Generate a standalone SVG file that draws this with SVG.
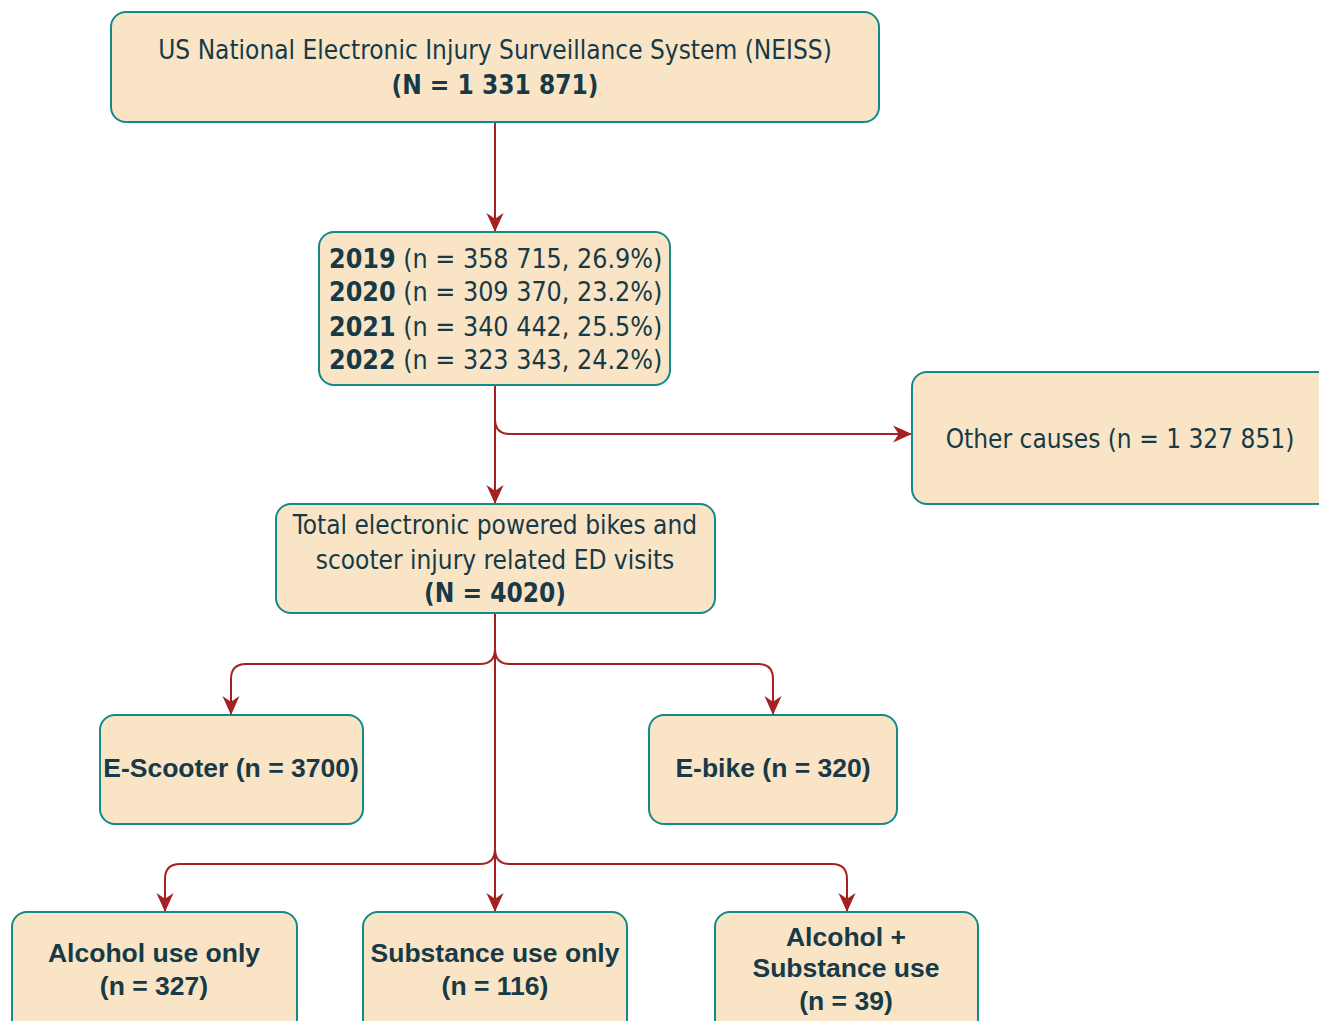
<svg xmlns="http://www.w3.org/2000/svg" width="1319" height="1021" viewBox="0 0 1319 1021">
<style>
.box{fill:#FAE4C6;stroke:#13898A;stroke-width:2}
.t{font-family:"DejaVu Sans Condensed","DejaVu Sans",Verdana,sans-serif;font-stretch:condensed;fill:#163A47;font-size:26px}
.y{font-size:26.6px}
.b{font-weight:bold}
.a{font-family:"Liberation Sans",Arial,sans-serif;font-weight:bold;fill:#163A47;font-size:26.5px}
.c{fill:none;stroke:#A52020;stroke-width:2;marker-end:url(#ah)}
</style>
<defs>
<marker id="ah" viewBox="0 0 20 20" markerWidth="19" markerHeight="19" refX="20" refY="10" orient="auto" markerUnits="userSpaceOnUse">
<path d="M0,1 L20,10 L0,19 L6,10 z" fill="#A52020"/>
</marker>
</defs>
<rect width="1319" height="1021" fill="#fff"/>
<g id="connectors">
<path class="c" d="M495,122 V232"/>
<path class="c" d="M495,385 V504"/>
<path class="c" d="M495,385 V419 Q495,434 510,434 H912"/>
<path class="c" d="M495,613 V649 Q495,664 480,664 H246 Q231,664 231,679 V715"/>
<path class="c" d="M495,613 V649 Q495,664 510,664 H758 Q773,664 773,679 V715"/>
<path class="c" d="M495,613 V849 Q495,864 480,864 H180 Q165,864 165,879 V912"/>
<path class="c" d="M495,613 V912"/>
<path class="c" d="M495,613 V849 Q495,864 510,864 H832 Q847,864 847,879 V912"/>
</g>
<g id="neiss">
<rect class="box" x="111" y="12" width="768" height="110" rx="15"/>
<text class="t" x="495" y="59" text-anchor="middle">US National Electronic Injury Surveillance System (NEISS)</text>
<text class="t b" x="495" y="94" text-anchor="middle">(N = 1 331 871)</text>
</g>
<g id="years">
<rect class="box" x="319" y="232" width="351" height="153" rx="15"/>
<text class="t y" x="329" y="268"><tspan class="b">2019</tspan> (n = 358 715, 26.9%)</text>
<text class="t y" x="329" y="301"><tspan class="b">2020</tspan> (n = 309 370, 23.2%)</text>
<text class="t y" x="329" y="336"><tspan class="b">2021</tspan> (n = 340 442, 25.5%)</text>
<text class="t y" x="329" y="369"><tspan class="b">2022</tspan> (n = 323 343, 24.2%)</text>
</g>
<g id="other">
<rect class="box" x="912" y="372" width="430" height="132" rx="15"/>
<text class="t" x="1120" y="448" text-anchor="middle">Other causes (n = 1 327 851)</text>
</g>
<g id="total">
<rect class="box" x="276" y="504" width="439" height="109" rx="15"/>
<text class="t" x="495" y="534" text-anchor="middle">Total electronic powered bikes and</text>
<text class="t" x="495" y="569" text-anchor="middle">scooter injury related ED visits</text>
<text class="t b" x="495" y="602" text-anchor="middle">(N = 4020)</text>
</g>
<g id="escooter">
<rect class="box" x="100" y="715" width="263" height="109" rx="15"/>
<text class="a" x="231" y="777" text-anchor="middle">E-Scooter (n = 3700)</text>
</g>
<g id="ebike">
<rect class="box" x="649" y="715" width="248" height="109" rx="15"/>
<text class="a" x="773" y="777" text-anchor="middle">E-bike (n = 320)</text>
</g>
<g id="alcohol">
<rect class="box" x="12" y="912" width="285" height="130" rx="15"/>
<text class="a" x="154" y="962" text-anchor="middle">Alcohol use only</text>
<text class="a" x="154" y="995" text-anchor="middle">(n = 327)</text>
</g>
<g id="substance">
<rect class="box" x="363" y="912" width="264" height="130" rx="15"/>
<text class="a" x="495" y="962" text-anchor="middle">Substance use only</text>
<text class="a" x="495" y="995" text-anchor="middle">(n = 116)</text>
</g>
<g id="both">
<rect class="box" x="715" y="912" width="263" height="130" rx="15"/>
<text class="a" x="846" y="946" text-anchor="middle">Alcohol +</text>
<text class="a" x="846" y="977" text-anchor="middle">Substance use</text>
<text class="a" x="846" y="1010" text-anchor="middle">(n = 39)</text>
</g>
</svg>
